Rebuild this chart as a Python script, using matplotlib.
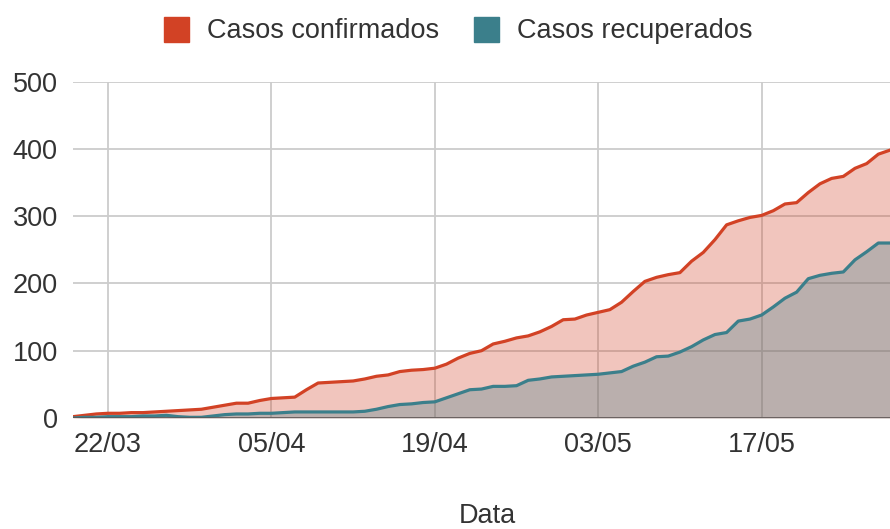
import matplotlib
matplotlib.use('Agg')
import matplotlib.pyplot as plt
import matplotlib.dates as mdates
from matplotlib.lines import Line2D
import pandas as pd

plt.rcParams['font.family'] = ['Liberation Sans', 'DejaVu Sans']

# daily data, 19/03 to 28/05
dates = pd.date_range('2020-03-19', '2020-05-28', freq='D')
confirmados = [2, 4, 6, 7, 7, 8, 8, 9, 10, 11,
               12, 13, 16, 19, 22, 22, 26, 29, 30, 31,
               42, 52, 53, 54, 55, 58, 62, 64, 69, 71,
               72, 74, 80, 89, 96, 100, 110, 114, 119, 122,
               128, 136, 146, 147, 153, 157, 161, 172, 188, 203,
               209, 213, 216, 233, 246, 265, 287, 293, 298, 301,
               308, 318, 320, 335, 348, 356, 359, 371, 378, 392,
               398]
recuperados = [0, 1, 1, 2, 2, 2, 3, 3, 4, 2,
               1, 1, 3, 5, 6, 6, 7, 7, 8, 9,
               9, 9, 9, 9, 9, 10, 13, 17, 20, 21,
               23, 24, 30, 36, 42, 43, 47, 47, 48, 56,
               58, 61, 62, 63, 64, 65, 67, 69, 77, 83,
               91, 92, 98, 106, 116, 124, 127, 144, 147, 153,
               165, 178, 187, 207, 212, 215, 217, 235, 247, 260,
               260]
tick_dates = pd.date_range('2020-03-22', '2020-05-17', freq='14D')
y_ticks = [0, 100, 200, 300, 400, 500]

red = '#d24225'
teal = '#3b7f8b'
txt = '#333333'

fig = plt.figure(figsize=(8.9, 5.29), dpi=100)
ax = fig.add_axes([73/890, 1 - 418/529, 1 - 73/890, (418 - 81.5)/529])

ax.fill_between(dates, confirmados, color=red, alpha=0.3, lw=0)
ax.fill_between(dates, recuperados, color=teal, alpha=0.3, lw=0)
ax.plot(dates, confirmados, color=red, lw=2.3, solid_joinstyle='round')
ax.plot(dates, recuperados, color=teal, lw=2.3, solid_joinstyle='round')
ax.axhline(0, color='#5a5252', lw=1.8, zorder=3)

ax.set_xlim(dates[0], dates[-1])
ax.set_ylim(0, 500)
ax.set_yticks(y_ticks)
ax.set_xticks(tick_dates)
ax.xaxis.set_major_formatter(mdates.DateFormatter('%d/%m'))
ax.grid(True, color='#cccccc', lw=1.3)
ax.set_axisbelow(True)
for s in ax.spines.values():
    s.set_visible(False)
ax.tick_params(axis='both', length=0, labelsize=19.5, labelcolor=txt)
ax.tick_params(axis='y', pad=11)
ax.tick_params(axis='x', pad=10)

fig.text(0.548, 0.0, 'Data', ha='center', va='bottom', fontsize=19.5, color=txt)

handles = [Line2D([], [], marker='s', ls='none', color=red, markersize=18),
           Line2D([], [], marker='s', ls='none', color=teal, markersize=18)]
fig.legend(handles, ['Casos confirmados', 'Casos recuperados'], loc='center',
           bbox_to_anchor=(0.514, 0.941), ncol=2, frameon=False, fontsize=19.5,
           handlelength=1.0, handletextpad=0.65, columnspacing=1.25, labelcolor=txt)

fig.savefig('out.png', dpi=100)
